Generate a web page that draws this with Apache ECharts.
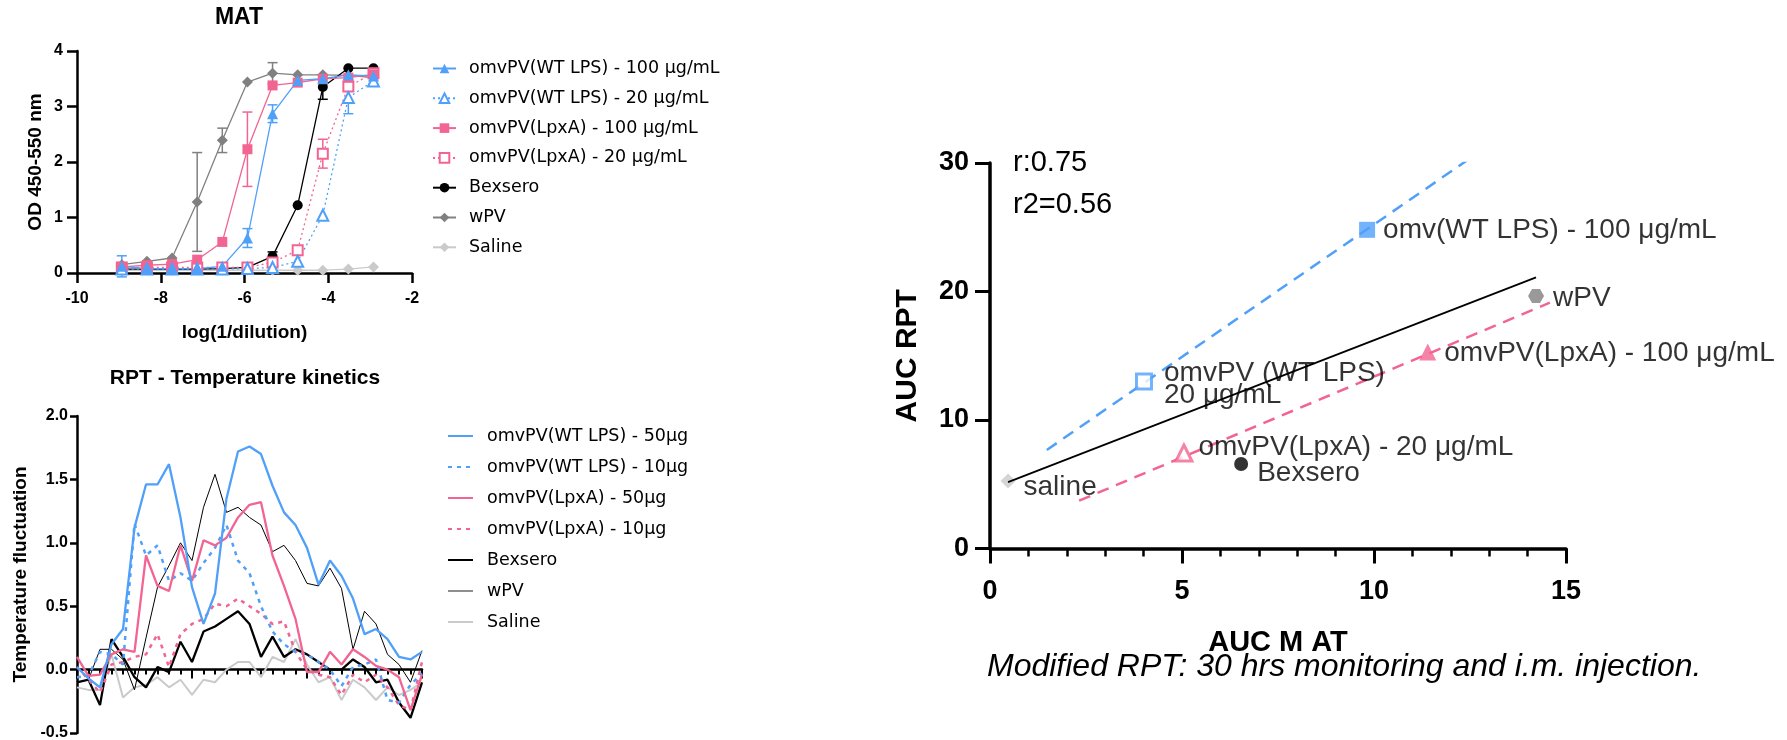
<!DOCTYPE html>
<html>
<head>
<meta charset="utf-8">
<script src="https://cdn.jsdelivr.net/npm/echarts@6/dist/echarts.min.js"></script>
<style>html,body{margin:0;padding:0;background:#fff}#c{width:1787px;height:740px}</style>
</head>
<body>
<div id="c"></div>
<script>
// ---------- MAT (OD vs log(1/dilution)) ----------
const matX = [-8.93, -8.33, -7.73, -7.13, -6.53, -5.93, -5.33, -4.73, -4.13, -3.52, -2.92];
const matWT100 = [0.12, 0.08, 0.08, 0.08, 0.12, 0.63, 2.87, 3.47, 3.50, 3.57, 3.55];
const matWT100Err = [0.19, 0, 0, 0, 0, 0.17, 0.16, 0, 0, 0, 0];
const matWT20 = [0.07, 0.07, 0.07, 0.07, 0.07, 0.08, 0.10, 0.21, 1.04, 3.16, 3.46];
const matWT20Err = [0, 0, 0, 0, 0, 0, 0, 0, 0, 0.29, 0.06];
const matLpx100 = [0.11, 0.14, 0.16, 0.24, 0.56, 2.23, 3.38, 3.43, 3.50, 3.52, 3.58];
const matLpx100Err = [0, 0, 0, 0, 0, 0.67, 0, 0, 0, 0, 0];
const matLpx20 = [0.10, 0.10, 0.10, 0.10, 0.10, 0.10, 0.19, 0.41, 2.15, 3.36, 3.60];
const matLpx20Err = [0, 0, 0, 0, 0, 0, 0, 0, 0.26, 0.08, 0];
const matBex = [0.07, 0.07, 0.07, 0.07, 0.08, 0.10, 0.30, 1.22, 3.35, 3.69, 3.69];
const matBexErr = [0, 0, 0, 0, 0, 0, 0.08, 0, 0.22, 0, 0];
const matWPV = [0.15, 0.21, 0.27, 1.28, 2.39, 3.44, 3.60, 3.57, 3.57, 3.56, 3.52];
const matWPVErr = [0, 0, 0, 0.89, 0.22, 0, 0.19, 0, 0, 0, 0];
const matSaline = [0.05, 0.05, 0.05, 0.05, 0.05, 0.05, 0.05, 0.05, 0.05, 0.07, 0.11];
const matNames = ['omvPV(WT LPS) - 100 μg/mL', 'omvPV(WT LPS) - 20 μg/mL', 'omvPV(LpxA) - 100 μg/mL',
  'omvPV(LpxA) - 20 μg/mL', 'Bexsero', 'wPV', 'Saline'];

// ---------- RPT temperature kinetics ----------
const hours = [0,1,2,3,4,5,6,7,8,9,10,11,12,13,14,15,16,17,18,19,20,21,22,23,24,25,26,27,28,29,30];
const rptWT50 = [0.02,-0.07,-0.14,0.20,0.32,1.12,1.46,1.46,1.62,1.20,0.65,0.36,0.60,1.35,1.72,1.76,1.70,1.45,1.24,1.14,0.96,0.67,0.86,0.74,0.56,0.28,0.32,0.24,0.10,0.08,0.14];
const rptWT10 = [-0.06,-0.05,0.14,0.12,0.04,1.15,0.90,0.98,0.70,0.76,0.70,0.84,0.96,1.14,0.86,0.76,0.50,0.30,0.20,0.14,0.12,0.06,0.00,-0.13,0.02,0.04,0.08,-0.24,-0.26,-0.12,-0.03];
const rptLpx50 = [0.10,-0.05,-0.04,0.12,0.16,0.14,0.90,0.66,0.62,0.98,0.70,1.02,0.98,1.04,1.20,1.30,1.32,0.90,0.66,0.40,-0.02,-0.02,0.14,0.04,0.16,0.10,0.03,0.00,-0.06,-0.32,-0.04];
const rptLpx10 = [0.02,-0.08,-0.18,0.04,0.06,0.10,0.12,0.28,0.02,0.28,0.36,0.40,0.52,0.50,0.56,0.50,0.44,0.36,0.38,0.14,0.00,-0.04,-0.06,-0.20,-0.04,-0.10,-0.04,-0.14,-0.28,-0.32,0.06];
const rptBex = [-0.10,-0.08,-0.28,0.24,0.10,-0.06,-0.14,0.02,-0.02,0.22,0.06,0.30,0.34,0.40,0.46,0.36,0.10,0.26,0.10,0.16,0.12,0.06,0.00,0.00,0.08,0.02,-0.10,-0.08,-0.26,-0.38,-0.10];
const rptWPV = [-0.10,-0.08,0.16,0.16,0.08,-0.16,0.25,0.65,0.82,1.00,0.86,1.28,1.54,1.24,1.28,1.20,1.14,0.93,0.98,0.86,0.68,0.66,0.80,0.64,0.16,0.46,0.36,0.12,0.04,-0.10,0.15];
const rptSaline = [-0.14,-0.16,-0.16,0.12,-0.22,-0.14,-0.12,-0.06,-0.14,-0.08,-0.20,-0.08,-0.10,0.00,0.06,0.06,-0.06,0.10,0.06,0.24,0.04,-0.10,-0.06,-0.24,-0.08,-0.14,-0.24,-0.14,-0.20,-0.16,-0.10];
// trailing spaces keep these legend entries distinct from the MAT ones
const rptNames = ['omvPV(WT LPS) - 50μg', 'omvPV(WT LPS) - 10μg', 'omvPV(LpxA) - 50μg', 'omvPV(LpxA) - 10μg',
  'Bexsero ', 'wPV ', 'Saline '];

// ---------- AUC MAT vs AUC RPT ----------
const pointNames = ['omv(WT LPS) - 100 μg/mL', 'wPV', 'omvPV(LpxA) - 100 μg/mL', 'omvPV (WT LPS)\n20 μg/mL',
  'omvPV(LpxA) - 20 μg/mL', 'Bexsero', 'saline'];
const aucMAT = [9.82, 14.22, 11.40, 4.01, 5.05, 6.54, 0.47];
const aucRPT = [24.80, 19.65, 15.30, 13.00, 7.43, 6.58, 5.25];
const fitBlueX = [1.48, 12.47], fitBlueY = [7.67, 30.30];
const fitPinkX = [2.32, 14.58], fitPinkY = [3.72, 19.13];
const statText = ['r:0.75', 'r2=0.56'];

// ---------- styles ----------
const BLUE = '#50a0fa', PINK = '#f26491', GRAY = '#808080', LGRAY = '#cacaca';
const FONT = 'Liberation Sans';
const LEGFONT = 'DejaVu Sans';
const hexagon = 'path://M0,5 L2.9,0 L8.7,0 L11.6,5 L8.7,10 L2.9,10 Z';

// least squares fit through all points (solid black line)
const n = aucMAT.length;
const mx = aucMAT.reduce((a, b) => a + b, 0) / n, my = aucRPT.reduce((a, b) => a + b, 0) / n;
let sxy = 0, sxx = 0;
for (let i = 0; i < n; i++) { sxy += (aucMAT[i] - mx) * (aucRPT[i] - my); sxx += (aucMAT[i] - mx) ** 2; }
const slope = sxy / sxx, icpt = my - slope * mx;
const xmin = Math.min(...aucMAT), xmax = Math.max(...aucMAT);
const regLine = [[xmin, icpt + slope * xmin], [xmax, icpt + slope * xmax]];

const zip = (xs, ys) => xs.map((x, i) => [x, ys[i]]);

function errSeries(ys, es, color) {
  const data = matX.map((x, i) => [x, ys[i], es[i]]).filter(d => d[2] > 0);
  return {
    type: 'custom', xAxisIndex: 0, yAxisIndex: 0, silent: true, z: 1,
    data: data, encode: { x: 0, y: 1 },
    renderItem: function (params, api) {
      const x = api.value(0), y = api.value(1), e = api.value(2);
      const t = api.coord([x, y + e]), b = api.coord([x, y - e]);
      const w = 5, st = { stroke: color, lineWidth: 1.5 };
      return { type: 'group', children: [
        { type: 'line', shape: { x1: t[0], y1: t[1], x2: b[0], y2: b[1] }, style: st },
        { type: 'line', shape: { x1: t[0] - w, y1: t[1], x2: t[0] + w, y2: t[1] }, style: st },
        { type: 'line', shape: { x1: b[0] - w, y1: b[1], x2: b[0] + w, y2: b[1] }, style: st }
      ] };
    }
  };
}

function matLine(name, ys, color, symbol, size, open, dotted) {
  return {
    type: 'line', name: name, xAxisIndex: 0, yAxisIndex: 0, data: zip(matX, ys),
    symbol: symbol, symbolSize: size, showSymbol: true,
    lineStyle: { color: color, width: 1.3, type: dotted ? [2, 3] : 'solid' },
    itemStyle: open ? { color: '#fff', borderColor: color, borderWidth: 2 } : { color: color },
    emphasis: { disabled: true }
  };
}

function rptLine(name, ys, color, width, dotted) {
  return {
    type: 'line', name: name, xAxisIndex: 1, yAxisIndex: 1, data: zip(hours, ys),
    symbol: 'none', showSymbol: false,
    lineStyle: { color: color, width: width, type: dotted ? [4, 5] : 'solid' },
    itemStyle: { color: color }, emphasis: { disabled: true }
  };
}

const axisLineSt = (w) => ({ show: true, onZero: true, lineStyle: { color: '#000', width: w } });
const tickSt = (len, w) => ({ show: true, inside: false, length: len, lineStyle: { color: '#000', width: w } });
const labelSt = (fs, m) => ({ color: '#000', fontWeight: 'bold', fontSize: fs, fontFamily: FONT, margin: m });
const nameSt = (fs) => ({ color: '#000', fontWeight: 'bold', fontSize: fs, fontFamily: FONT });

// per-point style of the AUC scatter
const pointStyles = [
  { symbol: 'rect', size: 16, item: { color: BLUE }, dist: 8, dy: 0 },
  { symbol: hexagon, size: [16, 14], item: { color: GRAY }, dist: 9, dy: 2 },
  { symbol: 'triangle', size: 17, item: { color: PINK }, dist: 8, dy: 1 },
  { symbol: 'rect', size: 15, item: { color: '#fff', borderColor: BLUE, borderWidth: 3 }, dist: 11, dy: 3 },
  { symbol: 'triangle', size: 16, item: { color: '#fff', borderColor: PINK, borderWidth: 3 }, dist: 5, dy: -6 },
  { symbol: 'circle', size: 14, item: { color: '#000' }, dist: 9, dy: 9 },
  { symbol: 'diamond', size: 15, item: { color: LGRAY }, dist: 8, dy: 6 }
];
const scatterData = aucMAT.map((x, i) => ({
  value: [x, aucRPT[i]], name: pointNames[i],
  symbol: pointStyles[i].symbol, symbolSize: pointStyles[i].size, itemStyle: pointStyles[i].item,
  label: { show: true, formatter: pointNames[i], position: 'right',
    distance: pointStyles[i].dist, offset: [0, pointStyles[i].dy],
    color: '#000', fontSize: 28, fontFamily: FONT, lineHeight: 22 }
}));

const option = {
  animation: false,
  backgroundColor: '#fff',
  textStyle: { fontFamily: FONT },
  grid: [
    { left: 77, top: 51, width: 335, height: 222, outerBoundsMode: 'none' },
    { left: 77, top: 416, width: 345, height: 317, outerBoundsMode: 'none' },
    { left: 990, top: 163, width: 576, height: 385.5, outerBoundsMode: 'none' }
  ],
  xAxis: [
    { type: 'value', gridIndex: 0, min: -10, max: -2, interval: 2, splitLine: { show: false },
      axisLine: axisLineSt(2.5), axisTick: tickSt(10, 2.5), axisLabel: labelSt(16, 18),
      name: 'log(1/dilution)', nameLocation: 'middle', nameGap: 50, nameTextStyle: nameSt(19) },
    { type: 'value', gridIndex: 1, min: 0, max: 30, interval: 10, splitLine: { show: false },
      axisLine: axisLineSt(2.5), axisTick: tickSt(9, 2),
      minorTick: { show: true, splitNumber: 10, length: 5, lineStyle: { color: '#000', width: 2 } },
      axisLabel: Object.assign(labelSt(16, 18), { formatter: v => (v === 0 ? '' : String(v)) }),
      name: 'Hours', nameLocation: 'middle', nameGap: 48, nameTextStyle: nameSt(19) },
    { type: 'value', gridIndex: 2, min: 0, max: 15, interval: 5, splitLine: { show: false },
      axisLine: axisLineSt(3.5), axisTick: tickSt(15, 3),
      minorTick: { show: true, splitNumber: 5, length: 8, lineStyle: { color: '#000', width: 2.5 } },
      axisLabel: labelSt(27, 30),
      name: 'AUC M AT', nameLocation: 'middle', nameGap: 80, nameTextStyle: nameSt(29) }
  ],
  yAxis: [
    { type: 'value', gridIndex: 0, min: 0, max: 4, interval: 1, splitLine: { show: false },
      axisLine: axisLineSt(2.5), axisTick: tickSt(10, 2.5), axisLabel: labelSt(16, 14),
      name: 'OD 450-550 nm', nameLocation: 'middle', nameGap: 32, nameTextStyle: nameSt(19) },
    { type: 'value', gridIndex: 1, min: -0.5, max: 2, interval: 0.5, splitLine: { show: false },
      axisLine: axisLineSt(2.5), axisTick: tickSt(7, 2.5),
      axisLabel: Object.assign(labelSt(16, 9), { formatter: v => v.toFixed(1) }),
      name: 'Temperature fluctuation', nameLocation: 'middle', nameGap: 47, nameTextStyle: nameSt(19) },
    { type: 'value', gridIndex: 2, min: 0, max: 30, interval: 10, splitLine: { show: false },
      axisLine: axisLineSt(3.5), axisTick: tickSt(15, 3), axisLabel: labelSt(27, 21),
      name: 'AUC RPT', nameLocation: 'middle', nameGap: 67, nameTextStyle: nameSt(30) }
  ],
  legend: [
    { data: matNames, orient: 'vertical', left: 432, top: 59.5, padding: 0, itemWidth: 23, itemHeight: 12,
      itemGap: 11.8, selectedMode: false,
      textStyle: { fontFamily: LEGFONT, fontSize: 17.5, color: '#000', padding: [0, 0, 0, 8] } },
    { data: rptNames.map(nm => ({ name: nm, itemStyle: { opacity: 0 },
        lineStyle: nm === 'wPV ' ? { width: 1.2, color: '#444' } : undefined })),
      orient: 'vertical', left: 447, top: 427, padding: 0, itemWidth: 25, itemHeight: 12,
      itemGap: 13.0, selectedMode: false,
      textStyle: { fontFamily: LEGFONT, fontSize: 17.5, color: '#000', padding: [0, 0, 0, 9] } }
  ],
  graphic: [
    { type: 'text', x: 239, y: 18, silent: true,
      style: { text: 'MAT', fill: '#000', font: 'bold 23px "Liberation Sans"', align: 'center', verticalAlign: 'middle' } },
    { type: 'text', x: 245, y: 378, silent: true,
      style: { text: 'RPT - Temperature kinetics', fill: '#000', font: 'bold 21px "Liberation Sans"', align: 'center', verticalAlign: 'middle' } },
    { type: 'text', x: 1013, y: 163, silent: true,
      style: { text: statText[0], fill: '#000', font: '29px "Liberation Sans"', align: 'left', verticalAlign: 'middle' } },
    { type: 'text', x: 1013, y: 205, silent: true,
      style: { text: statText[1], fill: '#000', font: '29px "Liberation Sans"', align: 'left', verticalAlign: 'middle' } },
    { type: 'text', x: 987, y: 667, silent: true,
      style: { text: 'Modified RPT: 30 hrs monitoring and i.m. injection.', fill: '#000',
        font: 'italic 32px "Liberation Sans"', align: 'left', verticalAlign: 'middle' } }
  ],
  series: [
    // MAT
    errSeries(matWPV, matWPVErr, GRAY),
    errSeries(matBex, matBexErr, '#000'),
    errSeries(matLpx20, matLpx20Err, PINK),
    errSeries(matLpx100, matLpx100Err, PINK),
    errSeries(matWT20, matWT20Err, BLUE),
    errSeries(matWT100, matWT100Err, BLUE),
    matLine(matNames[6], matSaline, LGRAY, 'diamond', 11, false, false),
    matLine(matNames[5], matWPV, GRAY, 'diamond', 11, false, false),
    matLine(matNames[4], matBex, '#000', 'circle', 10, false, false),
    matLine(matNames[3], matLpx20, PINK, 'rect', 10, true, true),
    matLine(matNames[2], matLpx100, PINK, 'rect', 10, false, false),
    matLine(matNames[1], matWT20, BLUE, 'triangle', 11, true, true),
    matLine(matNames[0], matWT100, BLUE, 'triangle', 11, false, false),
    // RPT
    rptLine(rptNames[6], rptSaline, LGRAY, 2, false),
    rptLine(rptNames[5], rptWPV, '#000', 1, false),
    rptLine(rptNames[4], rptBex, '#000', 2.3, false),
    rptLine(rptNames[3], rptLpx10, PINK, 2.5, true),
    rptLine(rptNames[1], rptWT10, BLUE, 2.5, true),
    rptLine(rptNames[2], rptLpx50, PINK, 2.3, false),
    rptLine(rptNames[0], rptWT50, BLUE, 2.3, false),
    // AUC correlation
    { type: 'line', xAxisIndex: 2, yAxisIndex: 2, data: zip(fitBlueX, fitBlueY), symbol: 'none', z: 1,
      lineStyle: { color: BLUE, width: 2.5, type: [12, 8] }, emphasis: { disabled: true }, silent: true },
    { type: 'line', xAxisIndex: 2, yAxisIndex: 2, data: zip(fitPinkX, fitPinkY), symbol: 'none', z: 1,
      lineStyle: { color: PINK, width: 2.5, type: [12, 8] }, emphasis: { disabled: true }, silent: true },
    { type: 'scatter', xAxisIndex: 2, yAxisIndex: 2, data: scatterData, z: 2, emphasis: { disabled: true } },
    { type: 'line', xAxisIndex: 2, yAxisIndex: 2, data: regLine, symbol: 'none', z: 3,
      lineStyle: { color: '#000', width: 1.8 }, emphasis: { disabled: true }, silent: true }
  ]
};

const chart = echarts.init(document.getElementById('c'), null, { renderer: 'canvas' });
chart.setOption(option);
</script>
</body>
</html>
